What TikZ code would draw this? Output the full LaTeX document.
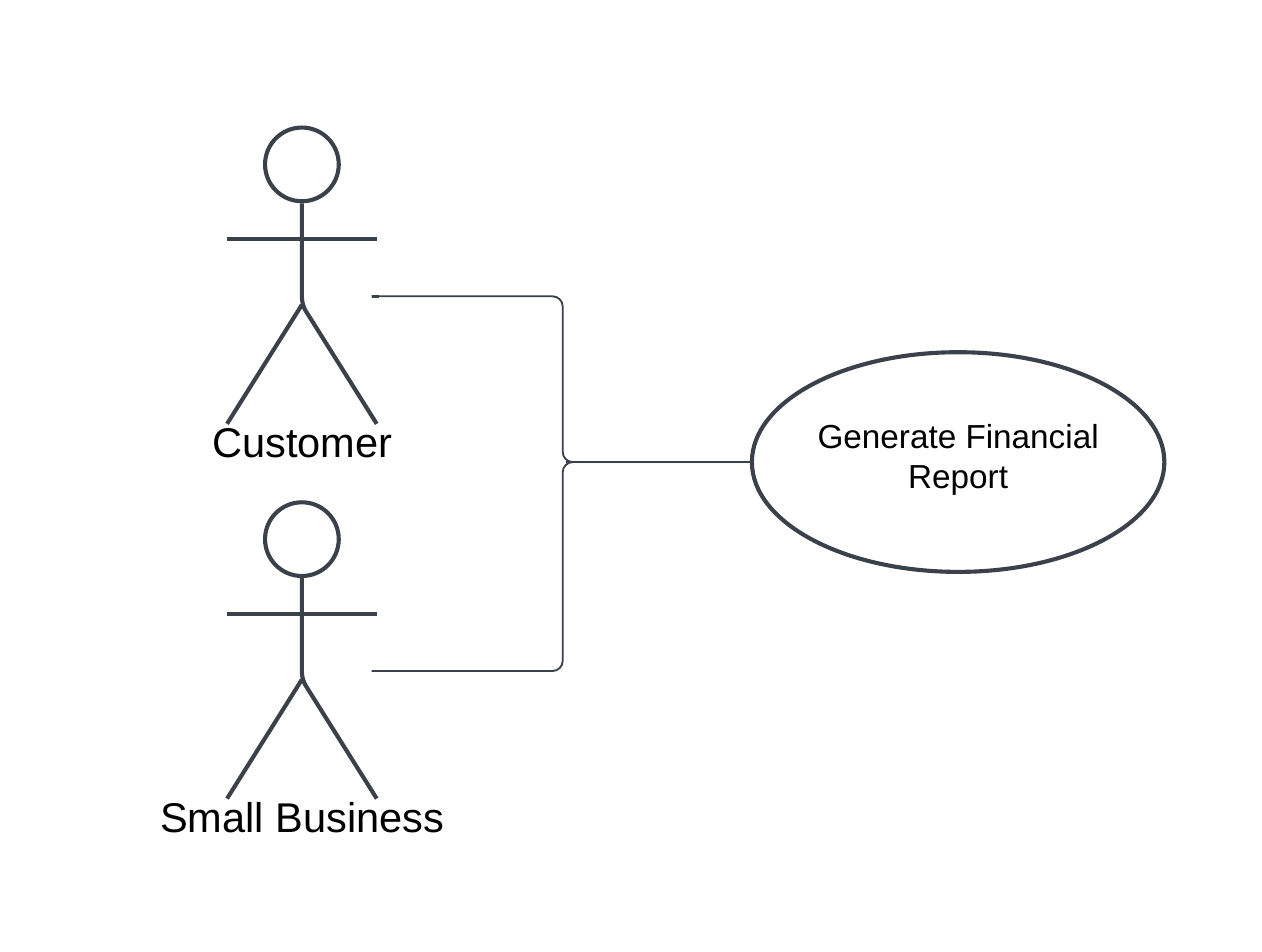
\documentclass[tikz,border=0pt]{standalone}
\usepackage{fontspec}
\setmainfont{Liberation Sans}
\usepackage{xcolor}
\usetikzlibrary{shapes,positioning,calc}
\definecolor{linegray}{HTML}{3A414A}
\tikzset{
    limb/.style={linegray, line width=1.45mm},
    wire/.style={linegray, line width=0.65mm, rounded corners=3.6mm},
    wirestub/.style={linegray, line width=0.95mm},
    actorlabel/.style={text=black, font=\fontsize{41.7}{48}\selectfont, inner sep=0pt},
    usecase/.style={ellipse, draw=linegray, line width=1.45mm, minimum width=14.55cm, minimum height=7.75cm, inner sep=0pt, align=center, font=\fontsize{33.4}{40}\selectfont}
}
% one actor: head, arms, body, legs
\newcommand{\stickman}[3]{
    \node[circle, draw=linegray, line width=1.45mm, minimum size=2.6cm, inner sep=0pt] (#1head) at (#2,#3) {};
    \coordinate (#1neck) at (#1head.south);
    \coordinate (#1hip) at ($(#1neck)+(0,-3.58)$);
    \draw[limb] ($(#1neck)+(-2.64,-1.27)$) -- ($(#1neck)+(2.64,-1.27)$);
    \draw[limb, rounded corners=2.5mm] (#1neck) -- (#1hip) -- ($(#1neck)+(2.64,-7.78)$);
    \draw[limb] (#1hip) -- ($(#1neck)+(-2.64,-7.78)$);
}
\begin{document}
\begin{tikzpicture}[x=1cm,y=1cm]
    \useasboundingbox (0,0) rectangle (44.52,33.55);
    \fill[white] (0,0) rectangle (44.52,33.55);

    % Actors
    \stickman{cust}{10.65}{27.75}
    \stickman{biz}{10.65}{14.53}
    \node[actorlabel] (custlabel) at (10.66,17.92) {Customer};
    \node[actorlabel] (bizlabel) at (10.66,4.70) {Small Business};

    % Use case
    \node[usecase] (report) at (33.8,17.25) {\raisebox{-1.3mm}[0pt][0pt]{\parbox{10cm}{\centering Generate Financial\\Report}}};

    % Wires
    \coordinate (custport) at ($(custneck)+(2.46,-3.28)$);
    \coordinate (bizport) at ($(bizneck)+(2.46,-3.28)$);
    \coordinate (joint) at (19.97,0 |- report.west);
    \draw[wire] (custport) -- ++(6.74,0) |- (report.west);
    \draw[wire] (bizport) -- ++(6.74,0) |- (report.west);

    % darker overlaps
    \draw[wirestub] (custport) -- ++(0.25,0);
    \draw[wirestub] (bizport) -- ++(0.25,0);
    \draw[wirestub] (joint) -- ++(2.33,0);
\end{tikzpicture}
\end{document}
